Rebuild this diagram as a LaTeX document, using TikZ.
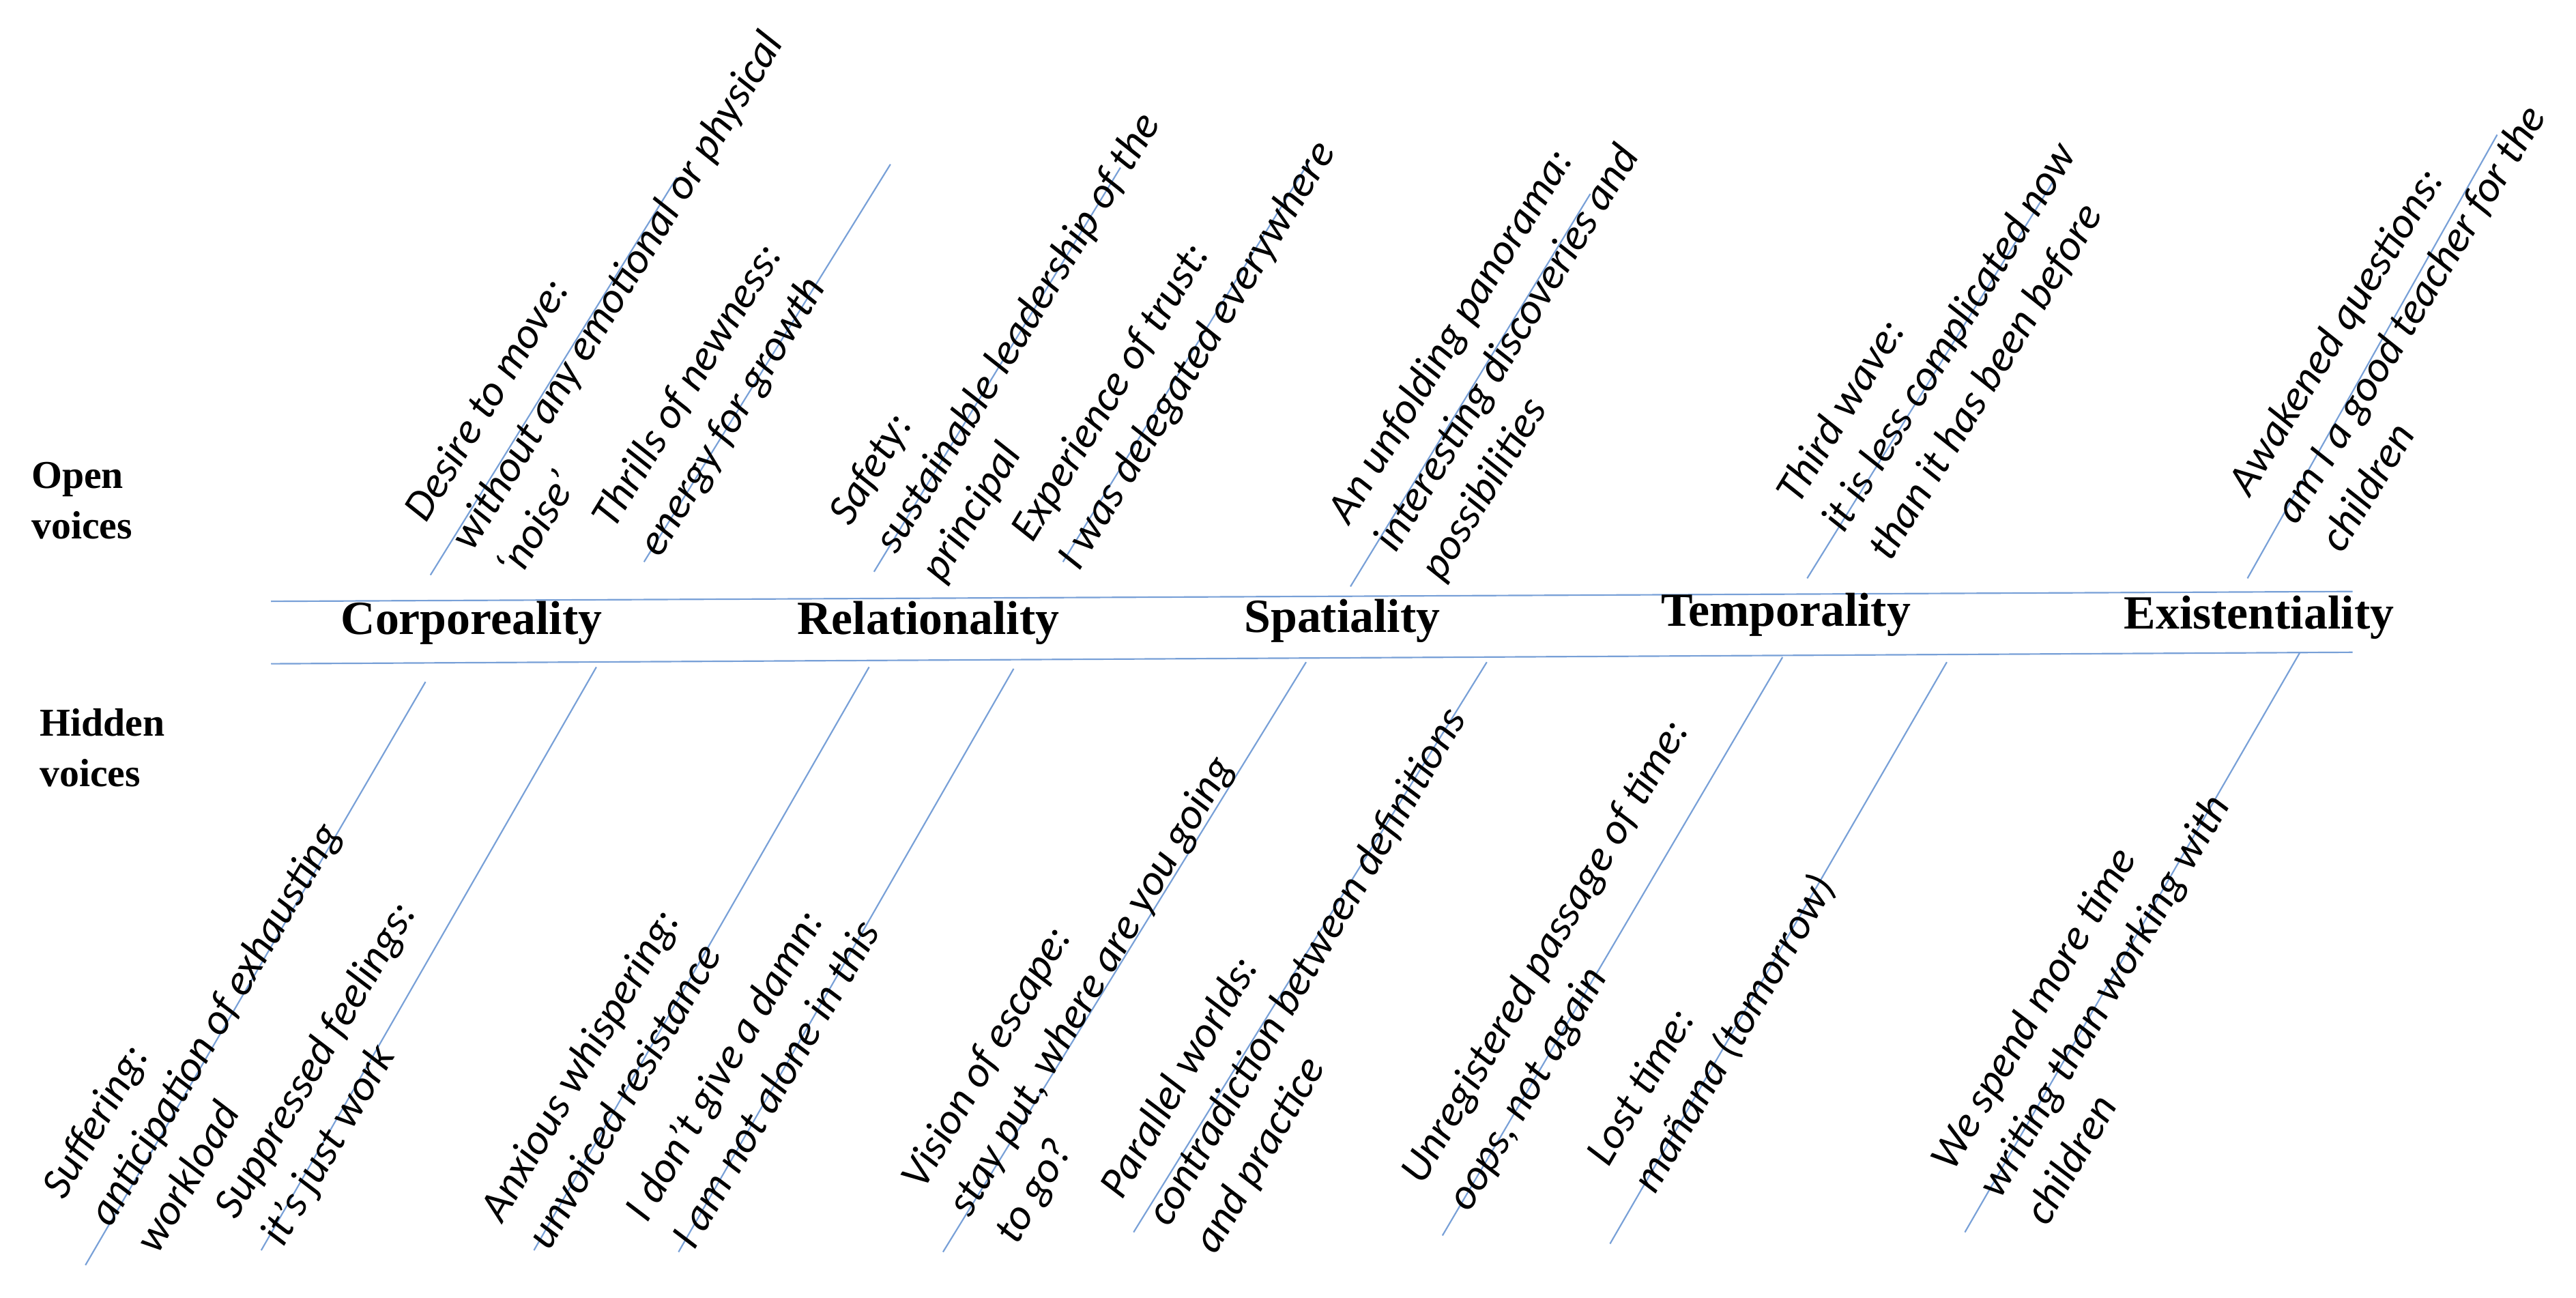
\documentclass[tikz,border=0pt]{standalone}
\usepackage{fontspec}
\setmainfont{Liberation Serif}
\newfontfamily\lblfont{Carlito}
\begin{document}
\begin{tikzpicture}[x=1pt,y=-1pt,
  ln/.style={line width=0.9pt, color={rgb,255:red,120;green,160;blue,215}},
  up/.style={font=\lblfont\itshape\fontsize{26.5}{33}\selectfont, rotate=58.5, anchor=base west, inner sep=0pt, xshift=-6pt, yshift=4pt},
  dn/.style={font=\lblfont\itshape\fontsize{26.5}{33}\selectfont, rotate=59.7, anchor=base west, inner sep=0pt, xshift=-7pt, yshift=4pt},
  cat/.style={font=\bfseries\fontsize{29}{32}\selectfont, inner sep=0pt},
  side/.style={font=\bfseries\fontsize{24}{31}\selectfont, align=left, anchor=north west, inner sep=0pt}]
\useasboundingbox (0,0) rectangle (1568,790);
% spine
\coordinate (s1a) at (165,366); \coordinate (s1b) at (1432,360);
\coordinate (s2a) at (165,404); \coordinate (s2b) at (1432,397);
\draw[ln] (s1a) -- (s1b);
\draw[ln] (s2a) -- (s2b);
% side labels
\node[side] (open) at (19,281) {Open\\voices};
\node[side] (hid) at (24,431) {Hidden\\voices};
% categories
\node[cat] (c1) at (287,379) {Corporeality};
\node[cat] (c2) at (565,379) {Relationality};
\node[cat] (c3) at (817,378) {Spatiality};
\node[cat] (c4) at (1087,374) {Temporality};
\node[cat] (c5) at (1375,376) {Existentiality};
% upper lines
\foreach \n/\a/\b/\c/\d in {u1/262/350/412/108, u2/392/342/542/100, u3/532/348/682/102,
  u4/647/342/797/98, u5/822/357/968/118, u6/1100/352/1250/110, u7/1368/352/1520/82}{
  \coordinate (\n a) at (\a,\b); \coordinate (\n b) at (\c,\d);
  \draw[ln] (\n a) -- (\n b);}
% lower lines
\foreach \n/\a/\b/\c/\d in {l1/52/770/259/415, l2/159/761/363/406, l3/325/761/529/406,
  l4/413/762/617/407, l5/574/762/795/403, l6/690/750/905/403, l7/878/752/1085/400,
  l8/980/757/1185/403, l9/1196/750/1400/397}{
  \coordinate (\n a) at (\a,\b); \coordinate (\n b) at (\c,\d);
  \draw[ln] (\n a) -- (\n b);}
% upper texts
\node[up] (t1) at (266,316) {\begin{tabular}[t]{@{}l@{}}Desire to move:\\without any emotional or physical\\‘noise’\end{tabular}};
\node[up] (t2) at (380,320) {\begin{tabular}[t]{@{}l@{}}Thrills of newness:\\energy for growth\end{tabular}};
\node[up] (t3) at (524,318) {\begin{tabular}[t]{@{}l@{}}Safety:\\sustainable leadership of the\\principal\end{tabular}};
\node[up] (t4) at (635,328) {\begin{tabular}[t]{@{}l@{}}Experience of trust:\\I was delegated everywhere\end{tabular}};
\node[up] (t5) at (828,317) {\begin{tabular}[t]{@{}l@{}}An unfolding panorama:\\interesting discoveries and\\possibilities\end{tabular}};
\node[up] (t6) at (1101,305) {\begin{tabular}[t]{@{}l@{}}Third wave:\\it is less complicated now\\than it has been before\end{tabular}};
\node[up] (t7) at (1376,300) {\begin{tabular}[t]{@{}l@{}}Awakened questions:\\am I a good teacher for the\\children\end{tabular}};
% lower texts
\node[dn] (b1) at (46,727) {\begin{tabular}[t]{@{}l@{}}Suffering:\\anticipation of exhausting\\workload\end{tabular}};
\node[dn] (b2) at (151,739) {\begin{tabular}[t]{@{}l@{}}Suppressed feelings:\\it’s just work\end{tabular}};
\node[dn] (b3) at (313,741) {\begin{tabular}[t]{@{}l@{}}Anxious whispering:\\unvoiced resistance\end{tabular}};
\node[dn] (b4) at (401,741) {\begin{tabular}[t]{@{}l@{}}I don’t give a damn:\\I am not alone in this\end{tabular}};
\node[dn] (b5) at (569,721) {\begin{tabular}[t]{@{}l@{}}Vision of escape:\\stay put,  where are you going\\to go?\end{tabular}};
\node[dn] (b6) at (690,727) {\begin{tabular}[t]{@{}l@{}}Parallel worlds:\\contradiction between definitions\\and practice\end{tabular}};
\node[dn] (b7) at (873,718) {\begin{tabular}[t]{@{}l@{}}Unregistered passage of time:\\oops, not again\end{tabular}};
\node[dn] (b8) at (986,707) {\begin{tabular}[t]{@{}l@{}}Lost time:\\mañana (tomorrow)\end{tabular}};
\node[dn] (b9) at (1196,710) {\begin{tabular}[t]{@{}l@{}}We spend more time\\writing than working with\\children\end{tabular}};
\end{tikzpicture}
\end{document}
